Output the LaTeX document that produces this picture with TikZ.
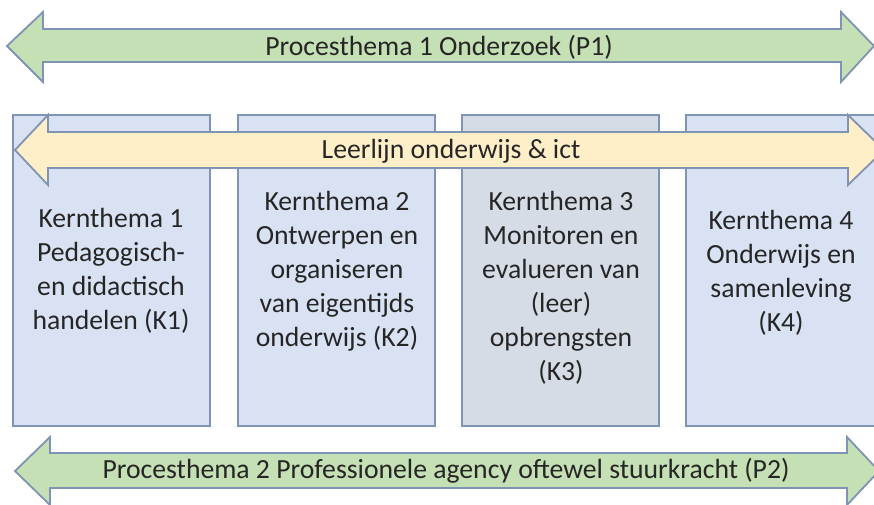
\documentclass[tikz,border=0pt]{standalone}
\usepackage{fontspec}
\setmainfont{Carlito}
\definecolor{arrowgreen}{HTML}{C5E0B4}
\definecolor{arrowyellow}{HTML}{FFEFC8}
\definecolor{boxblue}{HTML}{D9E2F3}
\definecolor{boxgray}{HTML}{D6DCE5}
\definecolor{edgeblue}{HTML}{7F93B5}
\definecolor{textdark}{HTML}{262626}
\tikzset{
  shapeline/.style={draw=edgeblue, line width=1.8pt, line join=miter},
  kbox/.style={shapeline, fill=boxblue},
  label/.style={text=textdark, font=\fontsize{27.7}{34}\selectfont, align=center, inner sep=0pt},
}
\begin{document}
\begin{tikzpicture}[x=1pt, y=-1pt]
\useasboundingbox (0,0) rectangle (874,504);
\fill[white] (0,0) rectangle (874,504);
% Procesthema 1 arrow
\draw[shapeline, fill=arrowgreen] (7,46) -- (43,12) -- (43,29) -- (841,29) -- (841,12) -- (874,46) -- (841,82) -- (841,62) -- (43,62) -- (43,82) -- cycle;
\node[label] (p1) at (439,47) {Procesthema 1 Onderzoek (P1)};
% Kernthema boxes
\draw[kbox] (13,115) rectangle (210,426);
\draw[kbox] (238,115) rectangle (435,426);
\draw[kbox, fill=boxgray] (462,115) rectangle (659,426);
\draw[kbox] (686,115) rectangle (884,426);
% Leerlijn arrow
\draw[shapeline, fill=arrowyellow] (15,150) -- (48,115) -- (48,132) -- (848,132) -- (848,115) -- (884,150) -- (848,185) -- (848,168) -- (48,168) -- (48,185) -- cycle;
\node[label] (ll) at (451,151) {Leerlijn onderwijs \& ict};
% Box texts
\node[label] (k1) at (111,271) {Kernthema 1\\Pedagogisch-\\en didactisch\\handelen (K1)};
\node[label] (k2) at (337,271) {Kernthema 2\\Ontwerpen en\\organiseren\\van eigentijds\\onderwijs (K2)};
\node[label] (k3) at (561,288) {Kernthema 3\\Monitoren en\\evalueren van\\(leer)\\opbrengsten\\(K3)};
\node[label] (k4) at (781,273) {Kernthema 4\\Onderwijs en\\samenleving\\(K4)};
% Procesthema 2 arrow
\draw[shapeline, fill=arrowgreen] (15,471) -- (50,437) -- (50,453) -- (847,453) -- (847,437) -- (879,471) -- (847,505) -- (847,488) -- (50,488) -- (50,505) -- cycle;
\node[label] (p2) at (446,471) {Procesthema 2 Professionele agency oftewel stuurkracht (P2)};
\end{tikzpicture}
\end{document}
